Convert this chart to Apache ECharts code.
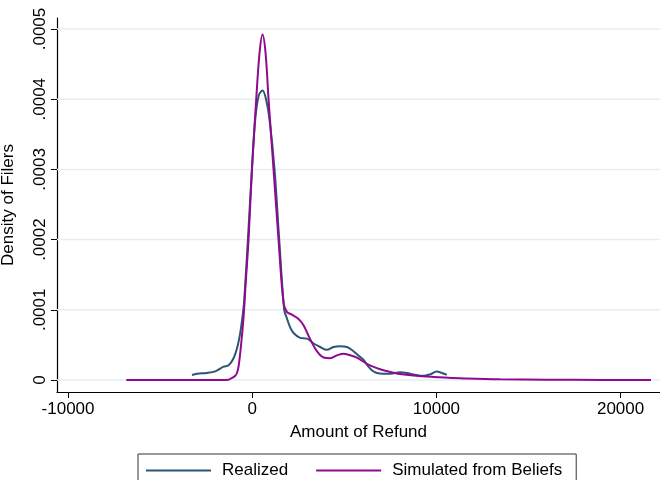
<!DOCTYPE html>
<html>
<head>
<meta charset="utf-8">
<script src="https://cdn.jsdelivr.net/npm/echarts@6/dist/echarts.min.js"></script>
<style>html,body{margin:0;padding:0;background:#fff}#c{width:660px;height:480px}</style>
</head>
<body>
<div id="c"></div>
<script>
const realizedX = [-3272,-3000,-2458,-2008,-1556,-1285,-1014,-797,-651,-506,-434,-235,-16,163,350,560,750,940,1211,1465,1736,1881,2060,2243,2604,2966,3328,3690,4052,4412,4775,5138,5497,5800,6040,6222,6493,6765,7127,7488,8030,8400,8754,9296,9650,10019,10300,10561];
const realizedY = [0.0000071,0.000009,0.000010,0.0000123,0.000019,0.000021,0.000031,0.000048,0.000067,0.000095,0.000114,0.0002,0.0003,0.000371,0.000405,0.0004125,0.000400,0.000371,0.0003,0.0002,0.0001,0.000088,0.000075,0.000067,0.000060,0.000059,0.000052,0.000047,0.000043,0.000047,0.000048,0.000047,0.000041,0.000034,0.000029,0.000022,0.000014,0.000010,0.000009,0.000009,0.000011,0.000010,0.000008,0.000006,0.000008,0.000012,0.000010,0.0000075];
const simulatedX = [-6837,-2000,-1300,-1100,-922,-832,-743,-613,-470,-350,-200,-16,217,398,560,723,886,1157,1428,1700,1881,2152,2513,2785,3147,3509,3871,4233,4600,4956,5226,5680,6222,6765,7127,8030,9838,11650,13460,16000,19000,21650];
const simulatedY = [0,0,0.0000005,0.000003,0.000006,0.00001,0.000019,0.000048,0.00009,0.00014,0.0002,0.0003,0.0004,0.000466,0.000492,0.000466,0.0004,0.0003,0.0002,0.00011,0.000097,0.000093,0.000087,0.000078,0.000058,0.000041,0.000032,0.000031,0.000035,0.0000375,0.000036,0.000032,0.000023,0.000017,0.000014,0.0000085,0.0000043,0.0000023,0.000001,0.0000004,0.0000001,0];
const xTicks = [-10000, 0, 10000, 20000];
const yTicks = [0, 0.0001, 0.0002, 0.0003, 0.0004, 0.0005];
const seriesNames = ['Realized', 'Simulated from Beliefs'];

const FONT = 'Liberation Sans, Arial, sans-serif';
const XMIN = -10600, XMAX = 22140;
const chart = echarts.init(document.getElementById('c'), null, {renderer: 'canvas'});
const fmtY = v => v === 0 ? '0' : v.toFixed(4).replace(/^0/, '');

const gridSeries = yTicks.map(v => ({
  name: '_g' + v, type: 'line', silent: true, z: 1,
  data: [[XMIN, v], [XMAX, v]], symbol: 'none', showSymbol: false,
  lineStyle: {color: '#e4edf0', width: 1.5}, emphasis: {disabled: true}, tooltip: {show: false}
}));

chart.setOption({
  animation: false,
  backgroundColor: '#fff',
  grid: {left: 57, right: 0, top: 18, bottom: 88, containLabel: false, outerBoundsMode: 'none'},
  xAxis: {
    type: 'value', min: XMIN, max: XMAX,
    name: 'Amount of Refund', nameLocation: 'middle', nameGap: 32,
    nameTextStyle: {fontFamily: FONT, fontSize: 17, color: '#000'},
    axisLine: {onZero: false, lineStyle: {color: '#000', width: 1.2}},
    axisTick: {show: true, length: 6, customValues: xTicks, lineStyle: {color: '#000', width: 1}},
    axisLabel: {customValues: xTicks, fontFamily: FONT, fontSize: 17, color: '#000', margin: 9, formatter: v => String(v)},
    splitLine: {show: false}
  },
  yAxis: {
    type: 'value', min: -0.0000171, max: 0.00051567,
    name: 'Density of Filers', nameLocation: 'middle', nameGap: 40, nameRotate: 90,
    nameTextStyle: {fontFamily: FONT, fontSize: 17, color: '#000'},
    axisLine: {show: true, onZero: false, lineStyle: {color: '#000', width: 1.2}},
    axisTick: {show: true, length: 6, customValues: yTicks, lineStyle: {color: '#000', width: 1}},
    axisLabel: {customValues: yTicks, rotate: 90, fontFamily: FONT, fontSize: 17, color: '#000', margin: 8, formatter: fmtY},
    splitLine: {show: false}
  },
  legend: {
    left: 138, top: 454, width: 442,
    padding: [8, 14, 10, 8],
    borderColor: '#333', borderWidth: 1,
    itemWidth: 65, itemHeight: 2, itemGap: 28,
    icon: 'rect',
    textStyle: {fontFamily: FONT, fontSize: 17, color: '#000', padding: [0, 0, 0, 6]},
    data: seriesNames
  },
  series: gridSeries.concat([
    {
      name: seriesNames[0], type: 'line', z: 3,
      data: realizedX.map((x, i) => [x, realizedY[i]]),
      showSymbol: false, symbol: 'none', smooth: 0.35,
      lineStyle: {color: '#2b5676', width: 2}, itemStyle: {color: '#2b5676'}
    },
    {
      name: seriesNames[1], type: 'line', z: 4,
      data: simulatedX.map((x, i) => [x, simulatedY[i]]),
      showSymbol: false, symbol: 'none', smooth: 0.35,
      lineStyle: {color: '#900a90', width: 2}, itemStyle: {color: '#900a90'}
    }
  ])
});
</script>
</body>
</html>
